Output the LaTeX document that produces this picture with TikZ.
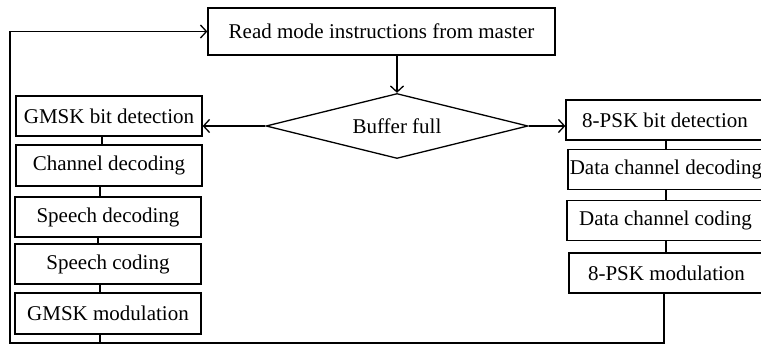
\documentclass[tikz,border=0pt]{standalone}
\usepackage{fontspec}
\setmainfont{Liberation Serif}
\usetikzlibrary{shapes.geometric,arrows.meta,positioning}

\tikzset{
  flowbox/.style={draw, rectangle, inner sep=0pt, font=\fontsize{21}{24}\selectfont,
                  line width=1.3pt},
  decision/.style={draw, diamond, aspect=4.03, inner sep=0pt,
                   font=\fontsize{21}{24}\selectfont, line width=1.3pt},
  link/.style={line width=1.3pt},
  flow/.style={line width=1.3pt, -{Straight Barb[length=6pt,width=13pt,line width=1.3pt]}},
}

\begin{document}
\begin{tikzpicture}[x=1pt, y=-1pt]
  \useasboundingbox (0,0) rectangle (761,345);
  \clip (0,0) rectangle (761,345);

  % master instruction and buffer test
  \node[flowbox, minimum width=347pt, minimum height=47pt] (read) at (381.5,31.5)
       {Read mode instructions from master};
  \node[decision, minimum width=262pt, minimum height=65pt] (buf) at (397,126)
       {Buffer full};

  % GMSK (speech) chain
  \node[flowbox, minimum width=186pt, minimum height=40pt] (g1) at (109,116) {GMSK bit detection};
  \node[flowbox, minimum width=186pt, minimum height=41pt] (g2) at (109,165.5) {Channel decoding};
  \node[flowbox, minimum width=186pt, minimum height=40pt] (g3) at (108,217) {Speech decoding};
  \node[flowbox, minimum width=186pt, minimum height=40pt] (g4) at (108,264) {Speech coding};
  \node[flowbox, minimum width=186pt, minimum height=41pt] (g5) at (108,313.5) {GMSK modulation};

  % 8-PSK (data) chain
  \node[flowbox, minimum width=198pt, minimum height=40pt] (p1) at (665,120) {8-PSK bit detection};
  \node[flowbox, minimum width=196pt, minimum height=40pt] (p2) at (666,169.5) {Data channel decoding};
  \node[flowbox, minimum width=197pt, minimum height=40pt] (p3) at (665.5,220.5) {Data channel coding};
  \node[flowbox, minimum width=195pt, minimum height=40pt] (p4) at (666.5,273) {8-PSK modulation};

  \coordinate (loopL) at (10,343);
  \coordinate (loopR) at (664,343);

  % connectors
  \draw[flow] (read.south -| buf.north) -- (buf.north);
  \draw[flow] (buf.west) -- (g1.east |- buf.west);
  \draw[flow] (buf.east) -- (p1.west |- buf.east);

  \draw[link] ([xshift=-7pt]g1.south) -- ([xshift=-7pt]g2.north);
  \draw[link] ([xshift=-9pt]g2.south) -- ([xshift=-8pt]g3.north);
  \draw[link] ([xshift=-10pt]g3.south) -- ([xshift=-10pt]g4.north);
  \draw[link] ([xshift=-8pt]g4.south) -- ([xshift=-8pt]g5.north);
  \draw[link] ([xshift=-8pt]g5.south) -- ([xshift=-8pt]g5.south |- loopL);

  \draw[link] ([xshift=1pt]p1.south) -- ([xshift=0pt]p2.north);
  \draw[link] ([xshift=0pt]p2.south) -- ([xshift=0.5pt]p3.north);
  \draw[link] ([xshift=0.5pt]p3.south) -- ([xshift=-0.5pt]p4.north);

  % return path back to the master instruction
  \draw[flow] (p4.south -| loopR) -- (loopR) -- (loopL) -- (loopL |- read.west) -- (read.west);
\end{tikzpicture}
\end{document}
